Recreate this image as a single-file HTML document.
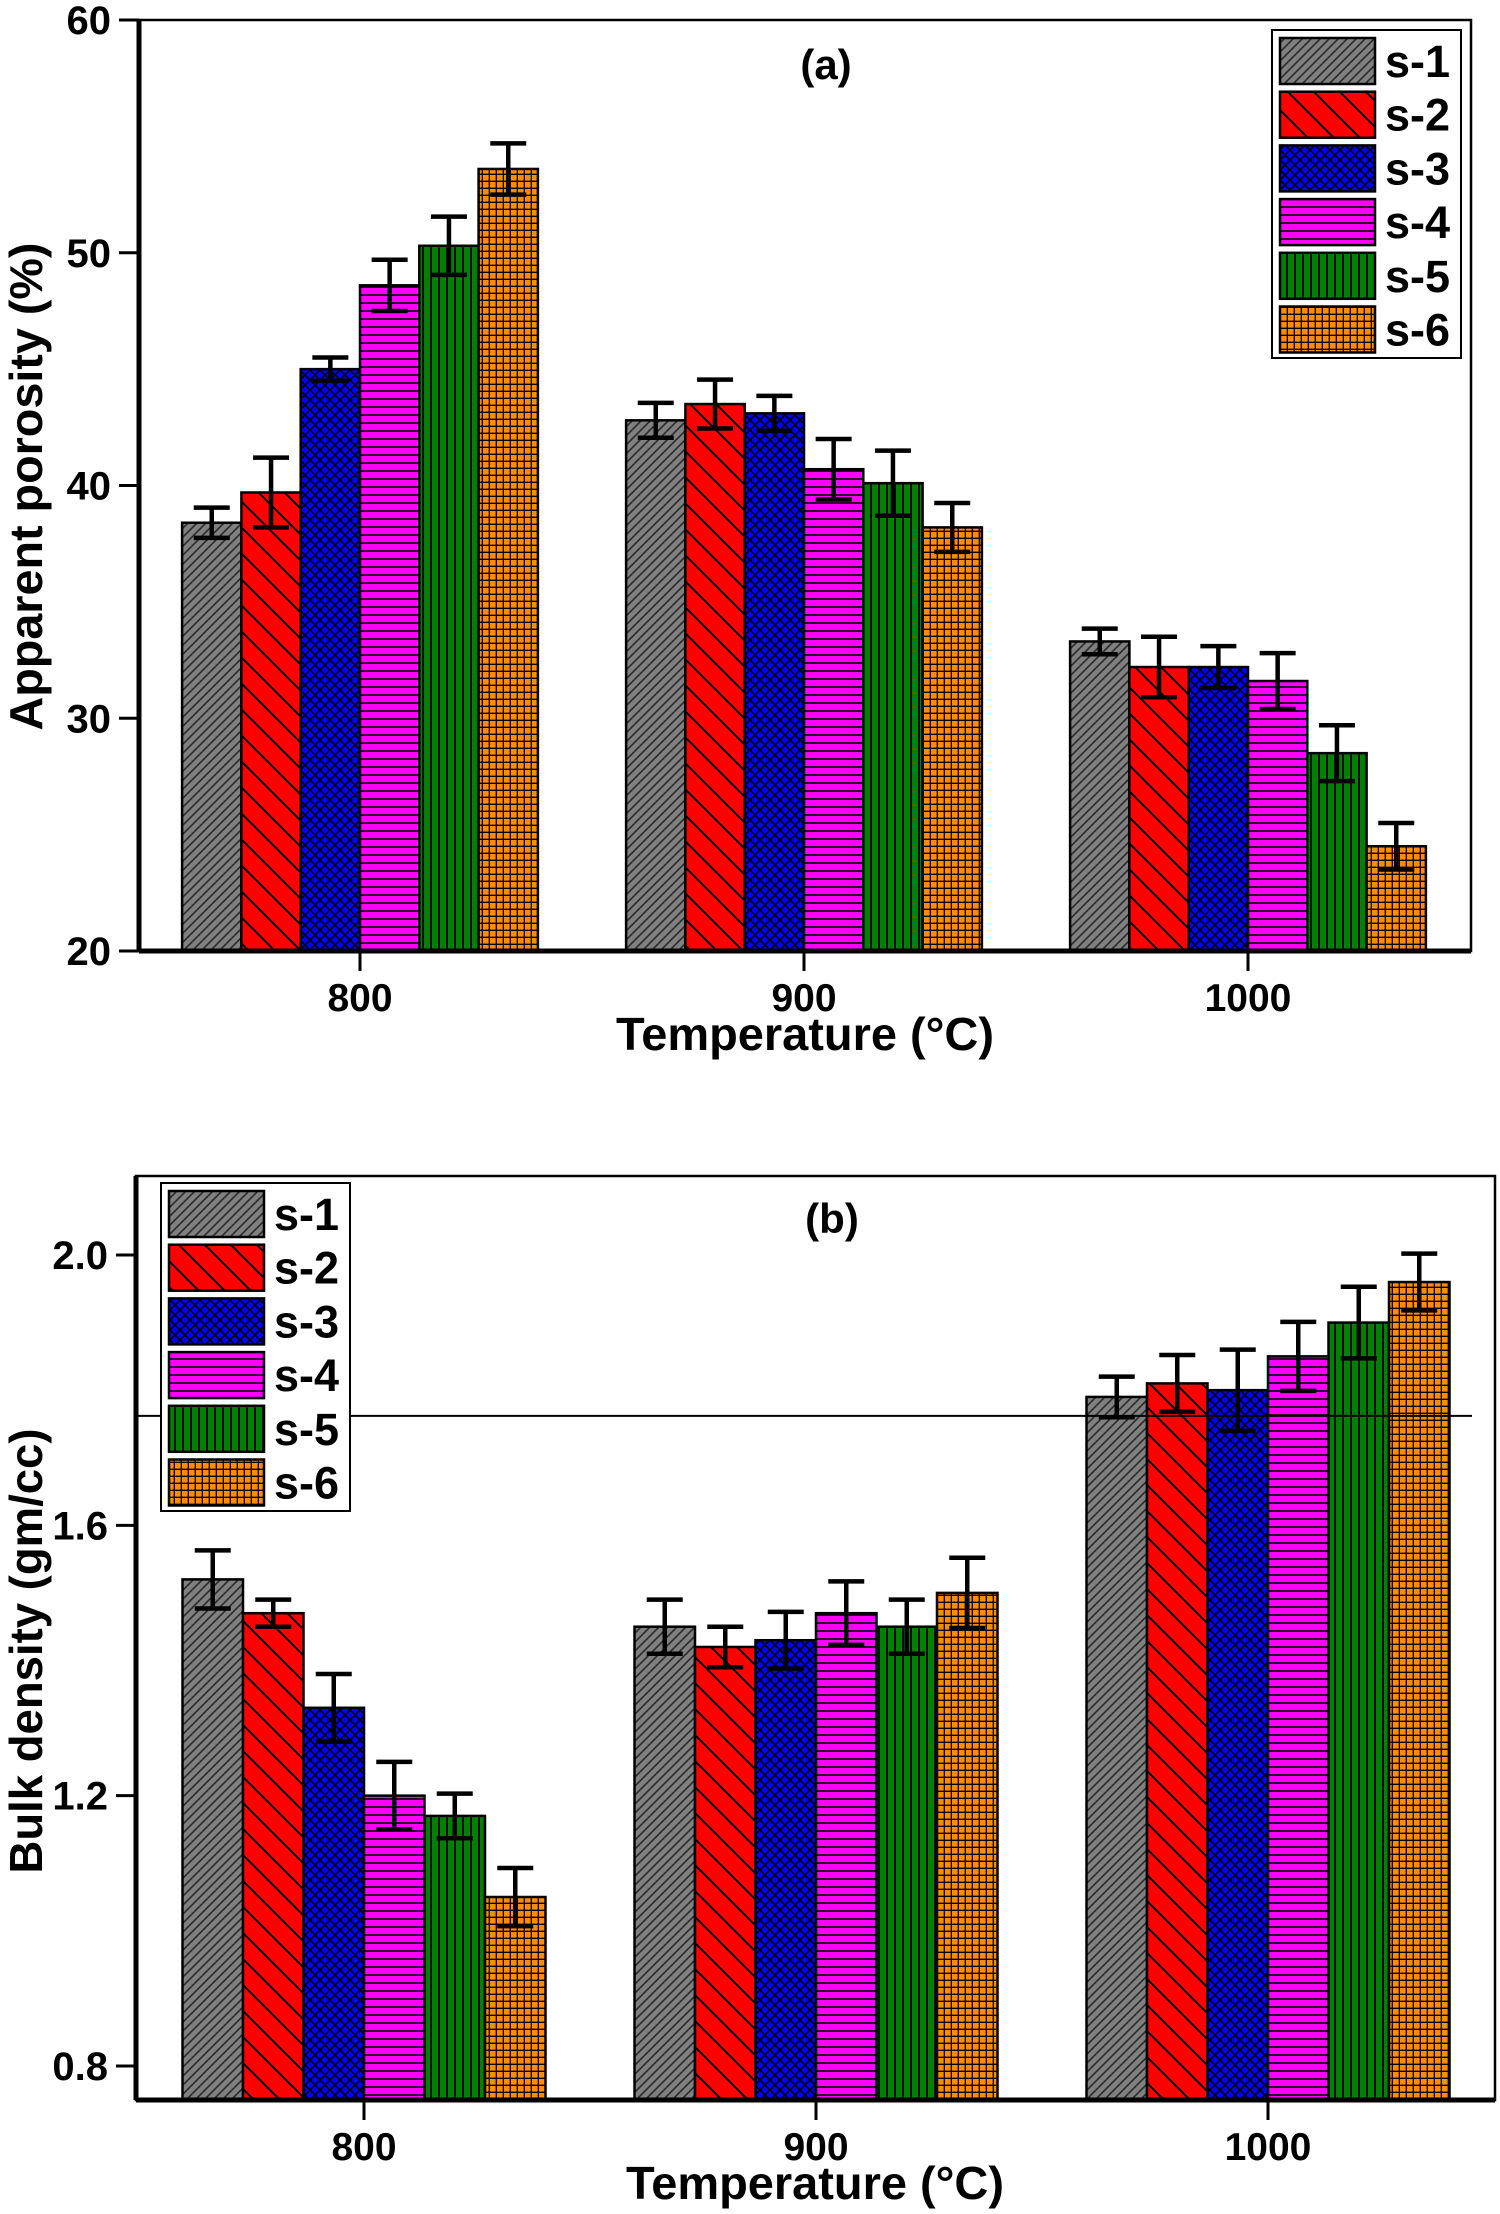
<!DOCTYPE html>
<html><head><meta charset="utf-8"><style>
html,body{margin:0;padding:0;background:#fff;}
svg{display:block;font-family:"Liberation Sans",Arial,sans-serif;font-weight:bold;}
</style></head><body>
<svg id="chart" width="1500" height="2214" viewBox="0 0 1500 2214" xmlns="http://www.w3.org/2000/svg">
<defs>
<pattern id="p1" patternUnits="userSpaceOnUse" width="9" height="9"><rect width="9" height="9" fill="#808080"/><path d="M-2,11 L11,-2 M-2,2 L2,-2 M7,11 L11,7" stroke="#2a2a2a" stroke-width="1.6"/></pattern>
<pattern id="p2" patternUnits="userSpaceOnUse" width="26" height="26"><rect width="26" height="26" fill="#ff0000"/><path d="M-3,-3 L29,29 M-3,23 L3,29 M23,-3 L29,3" stroke="#000" stroke-width="2"/></pattern>
<pattern id="p3" patternUnits="userSpaceOnUse" width="10" height="10"><rect width="10" height="10" fill="#0000ff"/><path d="M-1,-1 L11,11 M-1,11 L11,-1" stroke="#000" stroke-width="1.6"/></pattern>
<pattern id="p4" patternUnits="userSpaceOnUse" width="10" height="8"><rect width="10" height="8" fill="#ff00ff"/><path d="M0,7 L10,7" stroke="#000" stroke-width="1.6"/></pattern>
<pattern id="p5" patternUnits="userSpaceOnUse" width="8" height="10"><rect width="8" height="10" fill="#008000"/><path d="M7,0 L7,10" stroke="#000" stroke-width="1.8"/></pattern>
<pattern id="p6" patternUnits="userSpaceOnUse" width="7" height="7"><rect width="7" height="7" fill="#ff8c00"/><path d="M0,6.3 L7,6.3 M6.3,0 L6.3,7" stroke="#000" stroke-width="1.3"/></pattern>
</defs>
</svg>
<script>
const categories = ["800", "900", "1000"];
const seriesNames = ["s-1", "s-2", "s-3", "s-4", "s-5", "s-6"];
// Panel (a) apparent porosity, rows = series, cols = categories
const porosity = [
  [38.4, 42.8, 33.3],
  [39.7, 43.5, 32.2],
  [45.0, 43.1, 32.2],
  [48.6, 40.7, 31.6],
  [50.3, 40.1, 28.5],
  [53.6, 38.2, 24.5]
];
const porosityErr = [
  [0.65, 0.75, 0.55],
  [1.5, 1.05, 1.3],
  [0.5, 0.75, 0.9],
  [1.1, 1.3, 1.2],
  [1.25, 1.4, 1.2],
  [1.1, 1.05, 1.0]
];
const porosityTicks = [20, 30, 40, 50, 60];
// Panel (b) bulk density
const density = [
  [1.52, 1.45, 1.79],
  [1.47, 1.42, 1.81],
  [1.33, 1.43, 1.80],
  [1.20, 1.47, 1.85],
  [1.17, 1.45, 1.90],
  [1.05, 1.50, 1.96]
];
const densityErr = [
  [0.043, 0.04, 0.03],
  [0.02, 0.03, 0.042],
  [0.05, 0.042, 0.06],
  [0.05, 0.047, 0.051],
  [0.033, 0.04, 0.053],
  [0.043, 0.052, 0.042]
];
const densityTicks = ["0.8", "1.2", "1.6", "2.0"];
const densityRefLine = 1.762;

const NS = "http://www.w3.org/2000/svg";
const svg = document.getElementById("chart");
function mk(tag, attrs, parent) {
  const e = document.createElementNS(NS, tag);
  for (const k in attrs) e.setAttribute(k, attrs[k]);
  (parent || svg).appendChild(e);
  return e;
}

function panel(cfg) {
  const g = mk("g", {});
  
  
  const y = v => cfg.top + (cfg.ymax - v) / (cfg.ymax - cfg.ymin) * (cfg.bottom - cfg.top);
  const xc = i => cfg.cx0 + i * cfg.cstep;
  const bw = cfg.bw;
  cfg.values.forEach((row, s) => {
    row.forEach((v, c) => {
      const x0 = xc(c) - 3 * bw + s * bw;
      const r = mk("rect", {x: x0, y: y(v), width: bw, height: y(cfg.ymin) - y(v), fill: "url(#p" + (s + 1) + ")", stroke: "#000", "stroke-width": 2.5}, g);
      
      
    });
  });
  cfg.values.forEach((row, s) => {
    row.forEach((v, c) => {
      const e = cfg.errs[s][c];
      const cx = xc(c) - 3 * bw + s * bw + bw / 2;
      const eg = mk("g", {stroke: "#000", "stroke-width": 4.5}, g);
      
      
      mk("line", {x1: cx, x2: cx, y1: y(v + e), y2: y(v - e)}, eg);
      mk("line", {x1: cx - 18, x2: cx + 18, y1: y(v + e), y2: y(v + e)}, eg);
      mk("line", {x1: cx - 18, x2: cx + 18, y1: y(v - e), y2: y(v - e)}, eg);
    });
  });
  if (cfg.refLine !== undefined) {
    const rl = mk("line", {x1: cfg.left, x2: cfg.refEnd, y1: y(cfg.refLine), y2: y(cfg.refLine), stroke: "#000", "stroke-width": 2}, g);
    
    
  }
  const fr = mk("rect", {x: cfg.left, y: cfg.top, width: cfg.right - cfg.left, height: cfg.bottom - cfg.top, fill: "none", stroke: "#000", "stroke-width": 2.5}, g);
  
  
  mk("line", {x1: cfg.left, x2: cfg.left, y1: cfg.top, y2: cfg.bottom, stroke: "#000", "stroke-width": 5}, g);
  mk("line", {x1: cfg.left, x2: cfg.right, y1: cfg.bottom, y2: cfg.bottom, stroke: "#000", "stroke-width": 5}, g);
  cfg.yticks.forEach(t => {
    const v = parseFloat(t);
    mk("line", {x1: cfg.left - 20, x2: cfg.left, y1: y(v), y2: y(v), stroke: "#000", "stroke-width": 3}, g);
    const tx = mk("text", {x: cfg.left - 28, y: y(v) + 14, "text-anchor": "end", "font-size": 40}, g);
    tx.textContent = t;
    
    
  });
  categories.forEach((c, i) => {
    mk("line", {x1: xc(i), x2: xc(i), y1: cfg.bottom, y2: cfg.bottom + 20, stroke: "#000", "stroke-width": 3}, g);
    const tx = mk("text", {x: xc(i), y: cfg.bottom + 60, "text-anchor": "middle", "font-size": 39}, g);
    tx.textContent = c;
    
    
  });
  const xt = mk("text", {x: cfg.xTitleX, y: cfg.bottom + 99, "text-anchor": "middle", "font-size": 46, textLength: 378, lengthAdjust: "spacingAndGlyphs"}, g);
  xt.textContent = "Temperature (\u00B0C)";
  
  
  const ycy = (cfg.top + cfg.bottom) / 2 + cfg.yTitleOff;
  const yt = mk("text", {x: 0, y: 0, "text-anchor": "middle", "font-size": 46, textLength: cfg.yTitleLen, lengthAdjust: "spacingAndGlyphs", transform: "translate(42," + ycy + ") rotate(-90)"}, g);
  yt.textContent = cfg.yTitle;
  
  
  const pl = mk("text", {x: cfg.labelX, y: cfg.labelY, "text-anchor": "middle", "font-size": 42}, g);
  pl.textContent = cfg.label;
  
  
  const lg = mk("g", {}, g);
  
  
  mk("rect", {x: cfg.legX, y: cfg.legY, width: 189, height: 328, fill: "#fff", stroke: "#000", "stroke-width": 2}, lg);
  seriesNames.forEach((n, s) => {
    const ent = mk("g", {}, lg);
    
    
    const ry = cfg.legY + 8 + s * 53.7;
    mk("rect", {x: cfg.legX + 8, y: ry, width: 95, height: 46, fill: "url(#p" + (s + 1) + ")", stroke: "#000", "stroke-width": 2.5}, ent);
    const t = mk("text", {x: cfg.legX + 113, y: ry + 39, "font-size": 45}, ent);
    t.textContent = n;
  });
}

panel({
  name: "panel-a-apparent-porosity",
  values: porosity, errs: porosityErr,
  yticks: porosityTicks.map(String), ymin: 20, ymax: 60,
  left: 139, right: 1471, top: 20, bottom: 951,
  cx0: 360, cstep: 444, bw: 59.3,
  xTitleX: 805, yTitle: "Apparent porosity (%)", yTitleLen: 488, yTitleOff: 1,
  label: "(a)", labelX: 826, labelY: 79,
  legX: 1272, legY: 30
});
panel({
  name: "panel-b-bulk-density",
  values: density, errs: densityErr,
  yticks: densityTicks, ymin: 2.0 - (2100 - 1255) / 675.8, ymax: 2.0 + (1255 - 1176) / 675.8,
  left: 136, right: 1495, top: 1176, bottom: 2100,
  cx0: 364, cstep: 452, bw: 60.5,
  refLine: densityRefLine, refEnd: 1472,
  xTitleX: 815, yTitle: "Bulk density (gm/cc)", yTitleLen: 445, yTitleOff: 13,
  label: "(b)", labelX: 832, labelY: 1233,
  legX: 161, legY: 1183
});
</script>
</body></html>
